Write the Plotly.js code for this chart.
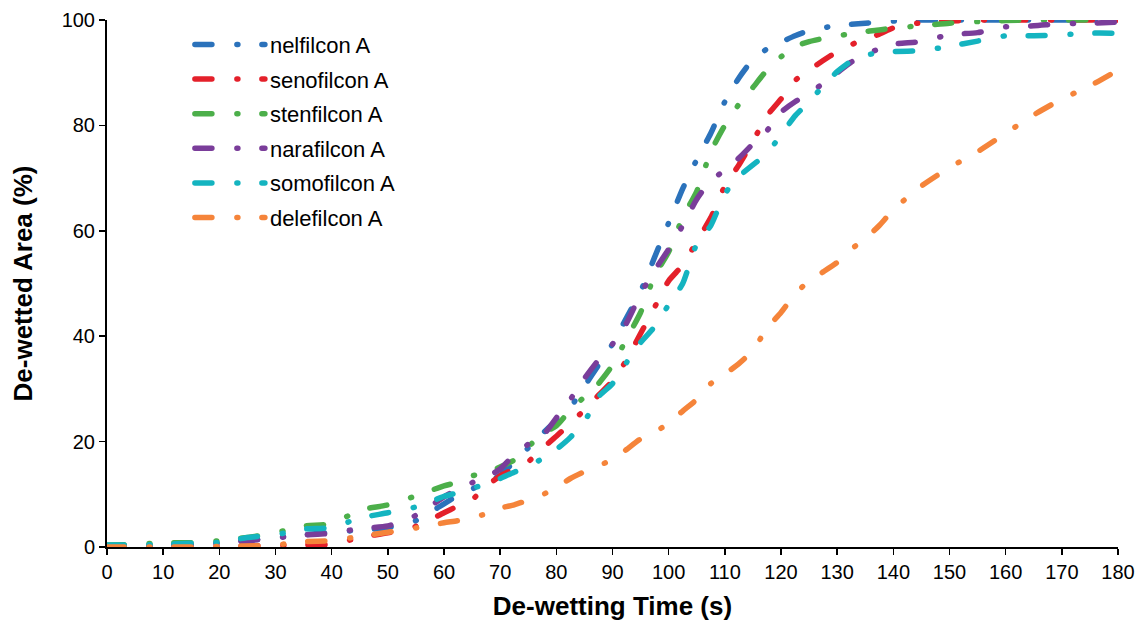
<!DOCTYPE html>
<html>
<head>
<meta charset="utf-8">
<script src="https://cdn.plot.ly/plotly-3.0.1.min.js"></script>
<style>
  html, body { margin: 0; padding: 0; background: #ffffff; }
  #chart { width: 1138px; height: 626px; }
</style>
</head>
<body>
<div id="chart"></div>
<script>
// De-wetting time (s)
var time = [0,5,10,15,20,25,30,35,40,45,50,55,60,
  62.5,65,67.5,70,72.5,75,77.5,80,82.5,85,87.5,90,92.5,95,97.5,100,102.5,105,107.5,110,
  112.5,115,117.5,120,122.5,125,127.5,130,132.5,135,137.5,140,
  145,150,155,160,165,170,175,180];

// De-wetted area (%) per lens
var nelfilcon = [0,0.1,0.3,0.5,0.8,1.3,1.8,2.3,2.8,3.2,3.7,5,8.2,
  9.8,11,12.3,13.6,16.2,18.8,21.5,24,26.5,30.5,34.5,38.5,43.5,48.5,55,61.5,68,73.5,78.5,84.5,
  89,92.5,94.5,95.8,97,98,98.5,99,99.2,99.4,99.6,99.8,
  100,100,100,100,100,100,100,100];
var senofilcon = [0,0,0,0.1,0.1,0.2,0.3,0.4,0.5,1.8,2.7,3.9,6.5,
  7.8,9,11.5,13.5,14.8,16.2,18.7,21,23.5,26,28.8,31.5,35.5,40.5,45.5,50.5,53.5,58,62.5,68.5,
  72.5,77,81.8,85,88.5,90.5,92.3,94,95.3,96.5,97.3,98.5,
  99.5,99.8,100,100,100,100,100,100];
var stenfilcon = [0.4,0.5,0.8,0.8,1.2,1.8,2.7,4,4.4,7,8,9.7,11.6,
  12.3,13.5,14,15.2,16.5,19,21.5,23,26,28.5,31,34.5,39.5,44.5,51.5,56,62.5,67.5,75,80,
  84,87.2,90.5,93,95,95.9,96.5,97,97.4,97.8,98.1,98.5,
  98.9,99.4,99.7,99.9,100,100,100,100];
var narafilcon = [0.2,0.2,0.3,0.5,0.7,1.2,1.7,2.3,2.6,3.5,4,6,9.5,
  11,12.2,13.3,14.8,17.5,19.5,21,24.5,28,32,35.5,38.5,42.5,48,52.5,56.5,61,66,69.5,71.5,
  73.8,76.5,79,82.5,84.5,86,88,90,92,93.5,94.5,95.4,
  95.9,97.2,97.6,98.7,98.9,99.3,99.4,99.6];
var somofilcon = [0.4,0.4,0.5,0.7,0.9,1.8,2.3,3.4,3.7,5.5,6.5,7.6,9.6,
  10.3,11.1,12,13,14.2,15.2,16.8,18.5,20.8,23.8,28.5,31,35,38.8,41.8,46,50,57.5,61,67,
  70.3,72.5,74.7,78.2,81.8,84.5,87.5,90.2,92.2,93.3,93.8,94,
  94.2,95,96,97,97,97.2,97.5,97.5];
var delefilcon = [0,0,0,0,0.1,0.2,0.4,1,1.2,2,2.8,3.6,4.6,
  5,5.6,6.3,7.4,8,8.9,9.9,11.3,13,14.3,15.5,16.5,18.5,20.5,21.8,23.5,25.8,28,31,32.8,
  34.8,37.3,41.5,44.5,48,50.5,52.2,54,56.5,58.5,61,64,
  68.5,72,75,78.5,82,85,87.5,90.5];

var seriesNames = ['nelfilcon A','senofilcon A','stenfilcon A','narafilcon A','somofilcon A','delefilcon A'];
var seriesValues = [nelfilcon, senofilcon, stenfilcon, narafilcon, somofilcon, delefilcon];
var seriesColors = ['#2b72bb','#e4202a','#4caf4a','#7a3d9a','#14b4c0','#f5843a'];

var xTicks = [0,10,20,30,40,50,60,70,80,90,100,110,120,130,140,150,160,170,180];
var yTicks = [0,20,40,60,80,100];

var traces = seriesNames.map(function(name, i) {
  return {
    type: 'scatter',
    mode: 'lines',
    name: name,
    legendgroup: 'g' + i,
    x: time,
    y: seriesValues[i],
    line: { color: seriesColors[i], width: 5.5, dash: '17px,25px,1px,24px', shape: 'spline', smoothing: 0.6 },
    hoverinfo: 'skip'
  };
});

var tickFont = { family: 'Liberation Sans, Arial, sans-serif', size: 20, color: '#000000' };
var titleFont = { family: 'Liberation Sans, Arial, sans-serif', size: 26, color: '#000000', weight: 'bold' };

var layout = {
  width: 1138,
  height: 626,
  margin: { l: 107, r: 20, t: 20, b: 79 },
  paper_bgcolor: '#ffffff',
  plot_bgcolor: '#ffffff',
  showlegend: true,
  legend: {
    x: 0.082, xanchor: 'left',
    y: 0.993, yanchor: 'top',
    bgcolor: 'rgba(0,0,0,0)',
    font: { family: 'Liberation Sans, Arial, sans-serif', size: 22, color: '#000000' },
    traceorder: 'grouped',
    tracegroupgap: 3,
    itemwidth: 70
  },
  xaxis: {
    range: [0, 180],
    tickvals: xTicks,
    ticktext: xTicks.map(String),
    ticks: 'outside', ticklen: 6, tickwidth: 1.5, tickcolor: '#000000',
    showline: true, linewidth: 2, linecolor: '#000000',
    showgrid: false, zeroline: false,
    tickfont: tickFont,
    title: { text: 'De-wetting Time (s)', font: titleFont, standoff: 15 }
  },
  yaxis: {
    range: [0, 100],
    tickvals: yTicks,
    ticktext: yTicks.map(String),
    ticks: 'outside', ticklen: 6, tickwidth: 1.5, tickcolor: '#000000',
    showline: true, linewidth: 2, linecolor: '#000000',
    showgrid: false, zeroline: false,
    tickfont: tickFont,
    title: { text: 'De-wetted Area (%)', font: titleFont, standoff: 22 }
  }
};

Plotly.newPlot('chart', traces, layout, { staticPlot: true, displayModeBar: false }).then(function(gd) {
  gd.querySelectorAll('.scatterlayer .js-line').forEach(function(p) {
    p.style.strokeLinecap = 'round';
    p.style.strokeLinejoin = 'round';
  });
  gd.querySelectorAll('.legendlines path').forEach(function(p) {
    p.style.strokeLinecap = 'round';
  });
  gd.querySelectorAll('.cartesianlayer .plot').forEach(function(g) {
    g.removeAttribute('clip-path');
  });
});
</script>
</body>
</html>
